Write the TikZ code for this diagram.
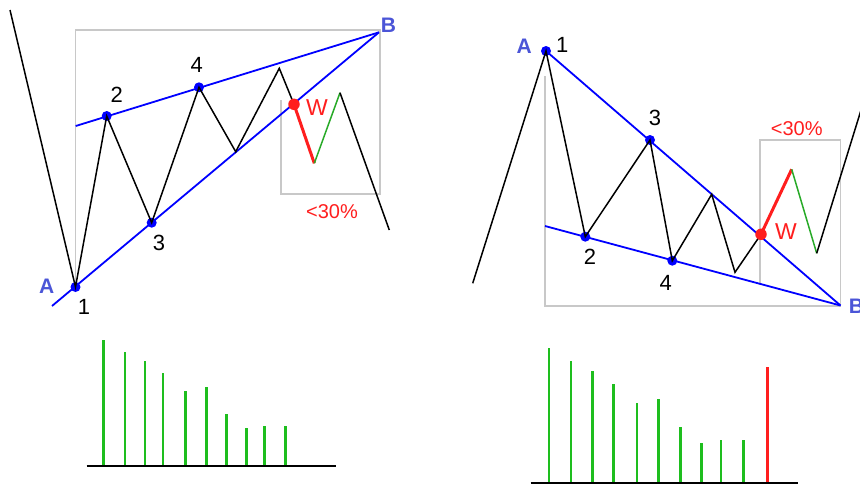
\documentclass[tikz,border=0pt]{standalone}
\usepackage{fontspec}
\setmainfont{Liberation Sans}
\definecolor{lblblue}{RGB}{75,85,215}
\definecolor{boxgray}{RGB}{200,200,200}
\definecolor{wgreen}{RGB}{40,170,40}
\definecolor{barg}{RGB}{30,190,30}
\definecolor{wred}{RGB}{255,30,30}
\tikzset{
  box/.style={draw=boxgray, line width=1.8pt},
  trend/.style={draw=blue, line width=1.8pt},
  wave/.style={draw=black, line width=1.5pt},
  redleg/.style={draw=wred, line width=3pt},
  greenleg/.style={draw=wgreen, line width=1.5pt},
  dot/.style={circle, fill=blue, inner sep=0pt, minimum size=10pt},
  wdot/.style={circle, fill=wred, inner sep=0pt, minimum size=11.5pt},
  num/.style={font=\fontsize{22}{26}\selectfont, text=black, inner sep=0pt},
  ablbl/.style={font=\fontsize{21}{25}\selectfont\bfseries, text=lblblue, inner sep=0pt},
  wlbl/.style={font=\fontsize{23}{27}\selectfont, text=wred, inner sep=0pt},
  pct/.style={font=\fontsize{20}{24}\selectfont, text=wred, inner sep=0pt},
  bar/.style={draw=barg, line width=2.5pt},
  redbar/.style={draw=wred, line width=2.5pt},
  base/.style={draw=black, line width=2pt}
}
\begin{document}
\begin{tikzpicture}[x=1pt,y=-1pt]
\useasboundingbox (0,0) rectangle (860,485);
% ---------------- left chart ----------------
\coordinate (L0) at (10,10);
\coordinate (Lt) at (235.7,151.7);
\coordinate (Lp) at (279.3,68.3);
\coordinate (Lr) at (314.3,163.3);
\coordinate (Lg) at (340,92.7);
\coordinate (Lend) at (389.3,230);
\coordinate (LB) at (379,32.3);
\coordinate (Lu0) at (75.7,126);
\coordinate (Ll0) at (52,306);
% gray boxes
\draw[box] (75.5,287) -- (75.5,30) -- (380,30) -- (380,194) -- (281,194) -- (281,100);
% trend lines
\draw[trend] (Lu0) -- (LB);
\draw[trend] (Ll0) -- (LB);
% points
\node[dot] (LA) at (75.5,287) {};
\node[dot] (L2) at (106.7,116) {};
\node[dot] (L3) at (151.7,222.7) {};
\node[dot] (L4) at (199,87.3) {};
% waves
\draw[wave] (L0) -- (LA.center) -- (L2.center) -- (L3.center) -- (L4.center) -- (Lt) -- (Lp) -- (294,104.3);
\draw[redleg] (294,104.3) -- (Lr);
\draw[greenleg] (Lr) -- (Lg);
\draw[wave] (Lg) -- (Lend);
\node[wdot] (LW) at (294,104.3) {};
% labels
\node[ablbl] (LAl) at (46.7,286) {A};
\node[ablbl] (LBl) at (388.5,25) {B};
\node[num] (L1l) at (84,307) {1};
\node[num] (L2l) at (116.7,95) {2};
\node[num] (L3l) at (159,243) {3};
\node[num] (L4l) at (196.7,65) {4};
\node[wlbl] (LWl) at (317,108) {W};
\node[pct] (Lpct) at (332,211.7) {<30\%};
% ---------------- right chart ----------------
\coordinate (R0) at (472.7,283.3);
\coordinate (Rp) at (711.7,194.3);
\coordinate (Rt) at (735,272.3);
\coordinate (Rr) at (791.7,169.3);
\coordinate (Rg) at (816.7,253.3);
\coordinate (Rend) at (866,94);
\coordinate (RB) at (840.5,305.5);
\coordinate (Rl0) at (545,226);
% gray boxes
\draw[box] (545,76) -- (545,306) -- (840.5,306) -- (840.5,140) -- (760,140) -- (760,285);
% trend lines
\draw[trend] (546,51) -- (RB);
\draw[trend] (Rl0) -- (RB);
% points
\node[dot] (RA) at (546,51) {};
\node[dot] (R2) at (585.3,236.7) {};
\node[dot] (R3) at (650,140) {};
\node[dot] (R4) at (672.3,260.7) {};
% waves
\draw[wave] (R0) -- (RA.center) -- (R2.center) -- (R3.center) -- (R4.center) -- (Rp) -- (Rt) -- (761,234.3);
\draw[redleg] (761,234.3) -- (Rr);
\draw[greenleg] (Rr) -- (Rg);
\draw[wave] (Rg) -- (Rend);
\node[wdot] (RW) at (761,234.3) {};
% labels
\node[ablbl] (RAl) at (524.3,46.7) {A};
\node[ablbl] (RBl) at (856.5,306.7) {B};
\node[num] (R1l) at (562.3,45) {1};
\node[num] (R2l) at (590,256.7) {2};
\node[num] (R3l) at (655,118.3) {3};
\node[num] (R4l) at (665.7,283.3) {4};
\node[wlbl] (RWl) at (786,231.7) {W};
\node[pct] (Rpct) at (796.7,128.3) {<30\%};
% ---------------- volume bars left ----------------
\foreach \x/\t in {103.7/340, 125/352, 145/360.7, 163/373.3, 185.7/391, 206.7/387, 226.3/413.7, 246.3/428.3, 264.7/426, 285.7/426}
  \draw[bar] (\x,465.7) -- (\x,\t);
\draw[base] (86.7,465.7) -- (336,465.7);
% ---------------- volume bars right ----------------
\foreach \x/\t in {549/348.3, 571/361.3, 592.3/370.7, 613.3/384, 637/402.7, 658.3/398.7, 680.7/426.7, 701.7/442.7, 721/440, 743.7/440}
  \draw[bar] (\x,483.3) -- (\x,\t);
\draw[redbar] (767.3,483.3) -- (767.3,366.7);
\draw[base] (530.7,483.3) -- (797.7,483.3);
\end{tikzpicture}
\end{document}
